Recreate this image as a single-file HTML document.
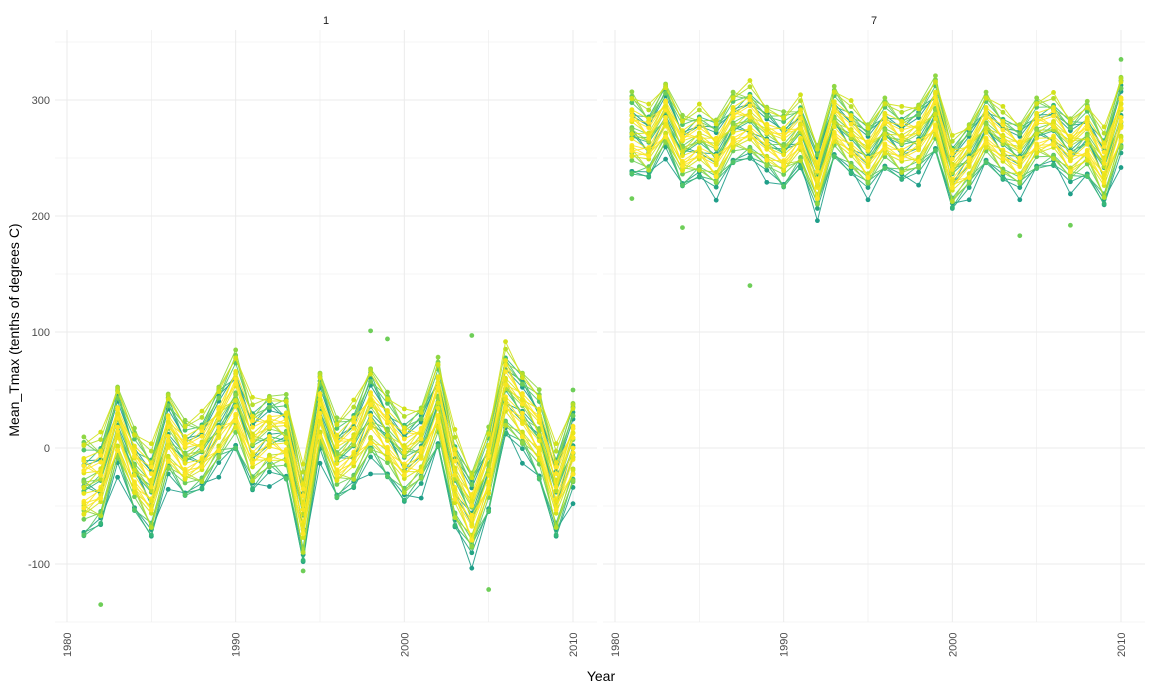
<!DOCTYPE html>
<html><head><meta charset="utf-8"><style>
body{margin:0;background:#fff;font-family:"Liberation Sans",sans-serif}
svg text{font-family:"Liberation Sans",sans-serif}
</style></head><body>
<svg id="chart" width="1152" height="691">
<g id="grid"></g><g id="marks"></g><g id="axes"></g>
<text x="326" y="24" font-size="11" text-anchor="middle" fill="#1a1a1a">1</text>
<text x="874" y="24" font-size="11" text-anchor="middle" fill="#1a1a1a">7</text>
<text x="601" y="681" font-size="14" text-anchor="middle" fill="#000">Year</text>
<text transform="translate(19,330) rotate(-90)" font-size="14" text-anchor="middle" fill="#000">Mean_Tmax (tenths of degrees C)</text>
</svg>
<script>
const years=[1981,1982,1983,1984,1985,1986,1987,1988,1989,1990,1991,1992,1993,1994,1995,1996,1997,1998,1999,2000,2001,2002,2003,2004,2005,2006,2007,2008,2009,2010];
const janMean=[-35,-30,18,-20,-40,10,-10,-5,18,40,0,10,8,-60,30,-10,0,28,10,-10,0,38,-30,-58,-20,48,30,10,-40,0];
const julMean=[270,262,285,255,262,252,275,280,265,256,270,232,280,265,250,270,260,265,287,235,250,275,260,250,270,272,255,265,240,285];
const janSpread=[42,38,36,35,38,38,32,32,36,42,38,36,36,40,36,34,36,42,36,38,36,38,40,38,36,38,36,38,38,40];
const julSpread=[35,30,30,30,30,32,30,32,30,32,30,30,30,30,30,30,30,32,32,30,30,30,30,30,30,30,30,32,32,36];
const wiggle=[0.1,-0.15,0.05,0.2,-0.1,0,-0.2,0.15,-0.05];
const offsets=[-1,-0.9,-0.82,-0.75,-0.68,-0.6,-0.55,-0.48,-0.42,-0.36,-0.3,-0.25,-0.2,-0.15,-0.1,-0.05,0,0.04,0.08,0.13,0.18,0.22,0.27,0.32,0.37,0.42,0.47,0.52,0.57,0.62,0.68,0.74,0.8,0.86,0.93,1];
const colors=["#1f9e89","#25a584","#35b779","#52c569","#6ece58","#8fd744","#b5de2b","#d2e21b","#e5e419","#fde725","#f6e620","#fde725","#fde725","#eae51a"];
const outJan=[[1982,-135],[2005,-122],[2004,97],[1998,101],[1999,94],[1994,-106],[2010,50]];
const outJul=[[1988,140],[2004,183],[2007,192],[1984,190],[2010,335],[1981,215]];
const yTicks=[-100,0,100,200,300];
const xTicks=[1980,1990,2000,2010];
const panels=[{x0:55,x1:597,mean:janMean,spread:janSpread,out:outJan},{x0:603,x1:1145,mean:julMean,spread:julSpread,out:outJul}];
const yTop=30,yBot=622;
const ys=v=>448-v*1.16;
const NS="http://www.w3.org/2000/svg";
function mk(t,a,p){const e=document.createElementNS(NS,t);for(const k in a)e.setAttribute(k,a[k]);p.appendChild(e);return e;}
const grid=document.getElementById('grid'),marks=document.getElementById('marks'),axes=document.getElementById('axes');
panels.forEach((p,pi)=>{
  const base=pi==0?67:615;
  const xs=y=>base+(y-1980)*((pi==0?573:1121)-base)/30;
  for(let v=-150;v<=350;v+=50){const l=mk('line',{x1:p.x0,x2:p.x1,y1:ys(v),y2:ys(v),stroke:'#ebebeb','stroke-width':v%100==0?1:0.6},grid);
    
    }
  for(let y=1980;y<=2010;y+=5){const l=mk('line',{x1:xs(y),x2:xs(y),y1:yTop,y2:yBot,stroke:'#ebebeb','stroke-width':y%10==0?1:0.6},grid);
    
    }
  xTicks.forEach(y=>{const t=mk('text',{transform:`translate(${xs(y)+4},${657}) rotate(-90)`,'font-size':11,fill:'#4d4d4d'},axes);t.textContent=y;
    
    });
  const order=offsets.map((o,si)=>si).sort((a,b)=>(a%colors.length)-(b%colors.length));
  order.forEach(si=>{
    const o=offsets[si];
    const col=colors[si%colors.length];
    const pts=years.map((y,i)=>[xs(y),ys(p.mean[i]+(o+wiggle[(si*5+i*3)%wiggle.length])*p.spread[i])]);
    const pl=mk('polyline',{points:pts.map(q=>q.join(',')).join(' '),fill:'none',stroke:col,'stroke-width':1,opacity:0.9},marks);
    
    
    pts.forEach(q=>{const c=mk('circle',{cx:q[0],cy:q[1],r:2.4,fill:col},marks);
      
      });
  });
  p.out.forEach(d=>{const c=mk('circle',{cx:xs(d[0]),cy:ys(d[1]),r:2.4,fill:'#6ece58'},marks);
    
    });
});
yTicks.forEach(v=>{const t=mk('text',{x:50,y:ys(v)+4,'font-size':11,fill:'#4d4d4d','text-anchor':'end'},axes);t.textContent=v;
  
  });
</script>
</body></html>
